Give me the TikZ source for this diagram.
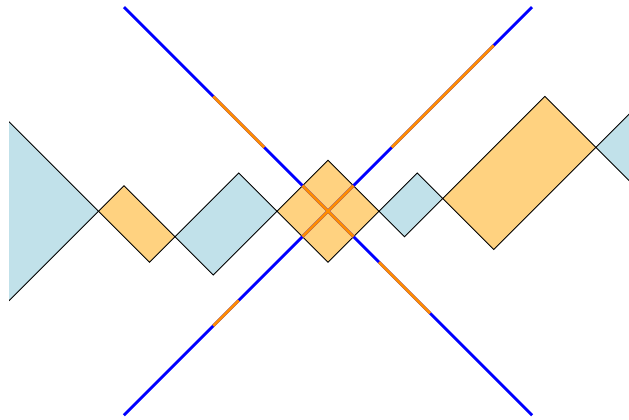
\documentclass[tikz,border=0pt]{standalone}
\usepackage{tikz}
\usepackage{xcolor}

\definecolor{cellblue}{RGB}{193,225,234}
\definecolor{cellorange}{RGB}{255,210,128}
\definecolor{lineorange}{RGB}{255,140,0}

% a cell [u1,u2]x[v1,v2] in light-cone coordinates
\newcommand{\lccell}[5]{\filldraw[cell,fill=#5] (#1,#3) -- (#2,#3) -- (#2,#4) -- (#1,#4) -- cycle;}

\begin{document}
\begin{tikzpicture}[cell/.style={draw=black,line width=0.5pt},
  axisline/.style={line width=1.6pt},
  null/.style={x={(0.5cm,-0.5cm)},y={(0.5cm,0.5cm)}}]
\useasboundingbox (-6.43,-4.08) rectangle (5.90,4.14);
% cells
\begin{scope}
\clip (-6.25,-4.2) rectangle (5.91,4.2);
\begin{scope}[null]
\lccell{-8}{-4.5}{-8}{-4.5}{cellblue}
\lccell{-4.5}{-2.5}{-4.5}{-3.5}{cellorange}
\lccell{-2.5}{-1}{-3.5}{-1}{cellblue}
\lccell{-1}{1}{-1}{1}{cellorange}
\lccell{1}{2}{1}{2.5}{cellblue}
\lccell{2}{4}{2.5}{6.5}{cellorange}
\lccell{4}{8}{6.5}{8}{cellblue}
\end{scope}
\end{scope}
% the two axes with the projections
\begin{scope}[null]
\coordinate (uL) at (-8,0);
\coordinate (uR) at (8,0);
\coordinate (vL) at (0,-8);
\coordinate (vR) at (0,8);
\draw[axisline,blue] (uL) -- (uR);
\draw[axisline,blue] (vL) -- (vR);
\draw[axisline,lineorange] (-4.5,0) -- (-2.5,0);
\draw[axisline,lineorange] (-1,0) -- (1,0);
\draw[axisline,lineorange] (2,0) -- (4,0);
\draw[axisline,lineorange] (0,-4.5) -- (0,-3.5);
\draw[axisline,lineorange] (0,-1) -- (0,1);
\draw[axisline,lineorange] (0,2.5) -- (0,6.5);
\end{scope}
\end{tikzpicture}
\end{document}
